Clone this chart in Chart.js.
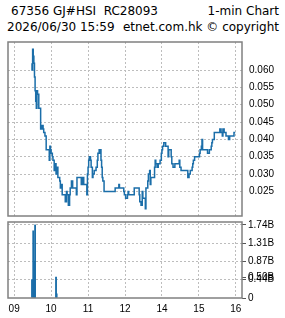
<!DOCTYPE html>
<html><head><meta charset="utf-8">
<script src="https://cdn.jsdelivr.net/npm/chart.js@4/dist/chart.umd.min.js"></script>
<style>
html,body{margin:0;padding:0;background:#fff;}
#wrap{position:relative;width:285px;height:318px;overflow:hidden;}
.hd{position:absolute;font-family:"DejaVu Sans";font-size:12px;line-height:12px;white-space:pre;color:#000;}
canvas{position:absolute;left:0;}
</style></head><body>
<div id="wrap">
<div class="hd" id="t1" style="left:11px;top:5px"></div>
<div class="hd" id="t2" style="right:6px;top:5px"></div>
<div class="hd" id="t3" style="left:7px;top:21px"></div>
<div class="hd" id="t4" style="right:6px;top:21px"></div>
<canvas id="p" width="285" height="182" style="top:36px;width:285px;height:182px"></canvas>
<canvas id="v" width="285" height="100" style="top:218px;width:285px;height:100px"></canvas>
</div>
<script>
// ---- header texts ----
const titleLeft = "67356 GJ#HSI  RC28093";
const titleRight = "1-min Chart";
const subLeft = "2026/06/30 15:59";
const subRight = "etnet.com.hk \u00a9 copyright";

// ---- x axis (trading minutes from 09:00, lunch removed) ----
const xTickValues = [0, 60, 120, 180, 240, 300, 360];
const xTickLabels = ["09", "10", "11", "12", "14", "15", "16"];

// ---- price series (step changes) ----
const priceTimes = [29,30,31,32,33,34,35,36,37,38,40,43,45,47,48,50,52,57,58,59,60,62,63,65,66,68,69,71,74,75,77,78,83,85,86,88,90,91,93,95,101,102,109,111,113,118,119,120,121,122,124,125,127,128,130,133,135,136,138,139,140,141,142,143,144,146,164,170,171,178,179,181,184,185,186,195,203,204,206,208,209,213,214,217,218,220,221,222,228,229,230,232,234,237,239,240,241,243,246,250,251,255,256,258,261,268,269,271,282,284,286,289,290,291,293,301,302,304,305,306,314,317,320,321,322,325,334,336,338,339,341,344,348,350,357,359];
const priceValues = [0.062,0.060,0.066,0.064,0.062,0.058,0.054,0.051,0.049,0.054,0.053,0.049,0.043,0.044,0.043,0.042,0.041,0.037,0.034,0.038,0.037,0.036,0.035,0.034,0.031,0.033,0.030,0.032,0.029,0.028,0.026,0.027,0.024,0.022,0.025,0.024,0.021,0.024,0.026,0.028,0.026,0.024,0.029,0.027,0.029,0.027,0.024,0.030,0.032,0.034,0.035,0.034,0.032,0.029,0.030,0.031,0.032,0.034,0.036,0.037,0.036,0.037,0.034,0.032,0.029,0.028,0.025,0.026,0.027,0.026,0.025,0.024,0.023,0.024,0.025,0.024,0.026,0.024,0.022,0.021,0.025,0.023,0.020,0.026,0.028,0.030,0.031,0.027,0.029,0.032,0.034,0.033,0.032,0.033,0.034,0.036,0.037,0.038,0.039,0.038,0.035,0.037,0.035,0.033,0.032,0.033,0.034,0.032,0.031,0.029,0.030,0.031,0.032,0.033,0.034,0.035,0.036,0.037,0.038,0.040,0.037,0.036,0.037,0.038,0.039,0.040,0.042,0.043,0.042,0.041,0.043,0.042,0.041,0.040,0.041,0.042];
const priceTicks = [0.025, 0.030, 0.035, 0.040, 0.045, 0.050, 0.055, 0.060];
const priceTickLabels = ["0.025","0.030","0.035","0.040","0.045","0.050","0.055","0.060"];

// ---- volume series (billions) ----
const volTimes = [29, 31, 33, 34, 68, 69];
const volValues = [0.44, 1.60, 0.88, 1.74, 0.50, 0.10];
const volTicks = [0, 0.435, 0.50, 0.87, 1.305, 1.74];
const volTickLabels = ["0", "0.44B", "0.50B", "0.87B", "1.31B", "1.74B"];

document.getElementById('t1').textContent = titleLeft;
document.getElementById('t2').textContent = titleRight;
document.getElementById('t3').textContent = subLeft;
document.getElementById('t4').textContent = subRight;

const LINE = '#1b6ea9';
const GRID = '#bdbdbd';
const FRAME = '#808080';
const FONT = {family: 'Liberation Sans', size: 10};

const noPad = s => { s.paddingTop = 0; s.paddingBottom = 0; s.paddingLeft = 0; s.paddingRight = 0; };

const framePlugin = {
  id: 'frame',
  afterDraw(chart) {
    const {ctx, chartArea: a} = chart;
    ctx.save();
    ctx.strokeStyle = FRAME;
    ctx.lineWidth = 1.5;
    ctx.strokeRect(a.left, a.top, a.right - a.left, a.bottom - a.top);
    ctx.restore();
  }
};

new Chart(document.getElementById('p'), {
  type: 'line',
  data: {
    datasets: [{
      data: priceTimes.map((t, i) => ({x: t, y: priceValues[i]})),
      stepped: 'after',
      borderColor: LINE,
      borderWidth: 1.5,
      pointRadius: 0,
      fill: false
    }]
  },
  options: {
    responsive: false,
    animation: false,
    layout: {padding: {top: 6, left: 8, right: 0, bottom: 2}},
    plugins: {legend: {display: false}, tooltip: {enabled: false}},
    scales: {
      x: {
        type: 'linear', min: -10, max: 370,
        afterBuildTicks: s => { s.ticks = xTickValues.map(v => ({value: v})); },
        afterFit: s => { s.height = 0; noPad(s); },
        ticks: {display: false},
        grid: {color: GRID, drawTicks: false},
        border: {display: false, dash: [2, 2]}
      },
      y: {
        position: 'right', min: 0.0179, max: 0.0681,
        afterBuildTicks: s => { s.ticks = priceTicks.map(v => ({value: v})); },
        afterFit: s => { s.width = 43; noPad(s); },
        ticks: {font: FONT, color: '#000', padding: 7, autoSkip: false,
                callback: (v, i) => priceTickLabels[i]},
        grid: {color: GRID, drawTicks: false},
        border: {display: false, dash: [2, 2]}
      }
    }
  },
  plugins: [framePlugin]
});

new Chart(document.getElementById('v'), {
  type: 'bar',
  data: {
    datasets: [{
      data: volTimes.map((t, i) => ({x: t, y: volValues[i]})),
      backgroundColor: LINE,
      barThickness: 1.2,
      borderWidth: 0
    }]
  },
  options: {
    responsive: false,
    animation: false,
    layout: {padding: {top: 4, left: 8, right: 0, bottom: 0}},
    plugins: {legend: {display: false}, tooltip: {enabled: false}},
    scales: {
      x: {
        type: 'linear', min: -10, max: 370, offset: false,
        afterBuildTicks: s => { s.ticks = xTickValues.map(v => ({value: v})); },
        afterFit: s => { s.height = 20; noPad(s); },
        ticks: {font: FONT, color: '#000', padding: 5, maxRotation: 0, autoSkip: false,
                callback: (v, i) => xTickLabels[i]},
        grid: {color: GRID, drawTicks: false, offset: false},
        border: {display: false, dash: [2, 2]}
      },
      y: {
        position: 'right', min: 0, max: 1.81,
        afterBuildTicks: s => { s.ticks = volTicks.map(v => ({value: v})); },
        afterFit: s => { s.width = 43; noPad(s); },
        ticks: {font: FONT, color: '#000', padding: 2, autoSkip: false,
                callback: (v, i) => volTickLabels[i]},
        grid: {
          color: c => (c.tick && (c.tick.value === 0.5 || c.tick.value === 0)) ? 'rgba(0,0,0,0)' : GRID,
          drawTicks: true, tickLength: 4, tickColor: '#555', tickWidth: 1
        },
        border: {display: false, dash: [2, 2]}
      }
    }
  },
  plugins: [framePlugin]
});
</script>
</body></html>
